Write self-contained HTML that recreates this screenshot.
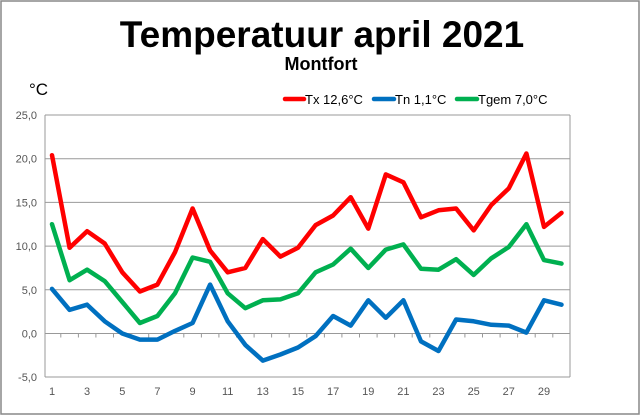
<!DOCTYPE html>
<html><head><meta charset="utf-8"><style>
html,body{margin:0;padding:0;background:#fff;}
svg{display:block;font-family:"Liberation Sans",sans-serif;}
</style></head><body>
<svg width="640" height="415" viewBox="0 0 640 415">
<rect x="1" y="1" width="638" height="413" fill="#fff" stroke="#888" stroke-width="1.5"/>
<text x="322" y="47" text-anchor="middle" font-size="37" font-weight="bold" fill="#000">Temperatuur april 2021</text>
<text x="321" y="70" text-anchor="middle" font-size="18" font-weight="bold" fill="#000">Montfort</text>
<text x="29" y="95" font-size="17" fill="#000">°C</text>
<g stroke="#999" stroke-width="1">
<line x1="45" y1="115" x2="570" y2="115"/>
<line x1="45" y1="158.7" x2="570" y2="158.7"/>
<line x1="45" y1="202.4" x2="570" y2="202.4"/>
<line x1="45" y1="246.1" x2="570" y2="246.1"/>
<line x1="45" y1="289.8" x2="570" y2="289.8"/>
<line x1="45" y1="333.5" x2="570" y2="333.5"/>
<line x1="45" y1="377" x2="570" y2="377"/>
<line x1="45" y1="115" x2="45" y2="377"/>
<line x1="570" y1="115" x2="570" y2="377"/>
</g>
<g stroke="#999" stroke-width="1">
<line x1="60.8" y1="333.5" x2="60.8" y2="337.5"/><line x1="78.4" y1="333.5" x2="78.4" y2="337.5"/><line x1="95.9" y1="333.5" x2="95.9" y2="337.5"/><line x1="113.5" y1="333.5" x2="113.5" y2="337.5"/><line x1="131.1" y1="333.5" x2="131.1" y2="337.5"/><line x1="148.7" y1="333.5" x2="148.7" y2="337.5"/><line x1="166.2" y1="333.5" x2="166.2" y2="337.5"/><line x1="183.8" y1="333.5" x2="183.8" y2="337.5"/><line x1="201.4" y1="333.5" x2="201.4" y2="337.5"/><line x1="218.9" y1="333.5" x2="218.9" y2="337.5"/><line x1="236.5" y1="333.5" x2="236.5" y2="337.5"/><line x1="254.1" y1="333.5" x2="254.1" y2="337.5"/><line x1="271.6" y1="333.5" x2="271.6" y2="337.5"/><line x1="289.2" y1="333.5" x2="289.2" y2="337.5"/><line x1="306.8" y1="333.5" x2="306.8" y2="337.5"/><line x1="324.4" y1="333.5" x2="324.4" y2="337.5"/><line x1="341.9" y1="333.5" x2="341.9" y2="337.5"/><line x1="359.5" y1="333.5" x2="359.5" y2="337.5"/><line x1="377.1" y1="333.5" x2="377.1" y2="337.5"/><line x1="394.6" y1="333.5" x2="394.6" y2="337.5"/><line x1="412.2" y1="333.5" x2="412.2" y2="337.5"/><line x1="429.8" y1="333.5" x2="429.8" y2="337.5"/><line x1="447.3" y1="333.5" x2="447.3" y2="337.5"/><line x1="464.9" y1="333.5" x2="464.9" y2="337.5"/><line x1="482.5" y1="333.5" x2="482.5" y2="337.5"/><line x1="500.1" y1="333.5" x2="500.1" y2="337.5"/><line x1="517.6" y1="333.5" x2="517.6" y2="337.5"/><line x1="535.2" y1="333.5" x2="535.2" y2="337.5"/><line x1="552.8" y1="333.5" x2="552.8" y2="337.5"/>
</g>
<g font-size="11" fill="#555" text-anchor="end">
<text x="37" y="119">25,0</text><text x="37" y="162.7">20,0</text><text x="37" y="206.4">15,0</text><text x="37" y="250.1">10,0</text><text x="37" y="293.8">5,0</text><text x="37" y="337.5">0,0</text><text x="37" y="381">-5,0</text>
</g>
<g font-size="11" fill="#555" text-anchor="middle">
<text x="52" y="395">1</text><text x="87.1" y="395">3</text><text x="122.3" y="395">5</text><text x="157.4" y="395">7</text><text x="192.6" y="395">9</text><text x="227.7" y="395">11</text><text x="262.8" y="395">13</text><text x="298" y="395">15</text><text x="333.1" y="395">17</text><text x="368.3" y="395">19</text><text x="403.4" y="395">21</text><text x="438.5" y="395">23</text><text x="473.7" y="395">25</text><text x="508.8" y="395">27</text><text x="544" y="395">29</text>
</g>
<g fill="none" stroke-width="4.5" stroke-linejoin="round" stroke-linecap="round">
<polyline stroke="#00b050" points="52,224.2 69.6,280.2 87.1,269.7 104.7,281.1 122.3,302 139.9,323 157.4,316 175,293.3 192.6,257.5 210.1,261.8 227.7,293.3 245.3,308.2 262.8,300.3 280.4,299.4 298,293.3 315.6,272.3 333.1,264.5 350.7,248.7 368.3,268 385.8,249.6 403.4,244.4 421,268.8 438.5,269.7 456.1,259.2 473.7,274.9 491.3,258.3 508.8,247 526.4,224.2 544,260.1 561.5,263.6"/>
<polyline stroke="#0070c0" points="52,288.9 69.6,309.9 87.1,304.7 104.7,321.3 122.3,333.5 139.9,339.6 157.4,339.6 175,330.9 192.6,323 210.1,284.6 227.7,321.3 245.3,344.9 262.8,360.6 280.4,354.5 298,347.5 315.6,336.1 333.1,316 350.7,325.6 368.3,300.3 385.8,317.8 403.4,300.3 421,341.4 438.5,351 456.1,319.5 473.7,321.3 491.3,324.8 508.8,325.6 526.4,332.6 544,300.3 561.5,304.7"/>
<polyline stroke="#ff0000" points="52,155.2 69.6,247.8 87.1,231.2 104.7,243.5 122.3,272.3 139.9,291.5 157.4,284.6 175,252.2 192.6,208.5 210.1,250.5 227.7,272.3 245.3,268 262.8,239.1 280.4,256.6 298,247.8 315.6,225.1 333.1,215.5 350.7,197.2 368.3,228.6 385.8,174.4 403.4,182.3 421,217.3 438.5,210.3 456.1,208.5 473.7,230.4 491.3,205 508.8,188.4 526.4,153.5 544,226.9 561.5,212.9"/>
</g>
<g stroke-width="4.5" stroke-linecap="round">
<line x1="285" y1="99" x2="304" y2="99" stroke="#ff0000"/>
<line x1="374" y1="99" x2="394" y2="99" stroke="#0070c0"/>
<line x1="457" y1="99" x2="477" y2="99" stroke="#00b050"/>
</g>
<g font-size="13" fill="#000">
<text x="305" y="104">Tx 12,6°C</text>
<text x="395" y="104">Tn 1,1°C</text>
<text x="478" y="104">Tgem 7,0°C</text>
</g>
</svg>
</body></html>
